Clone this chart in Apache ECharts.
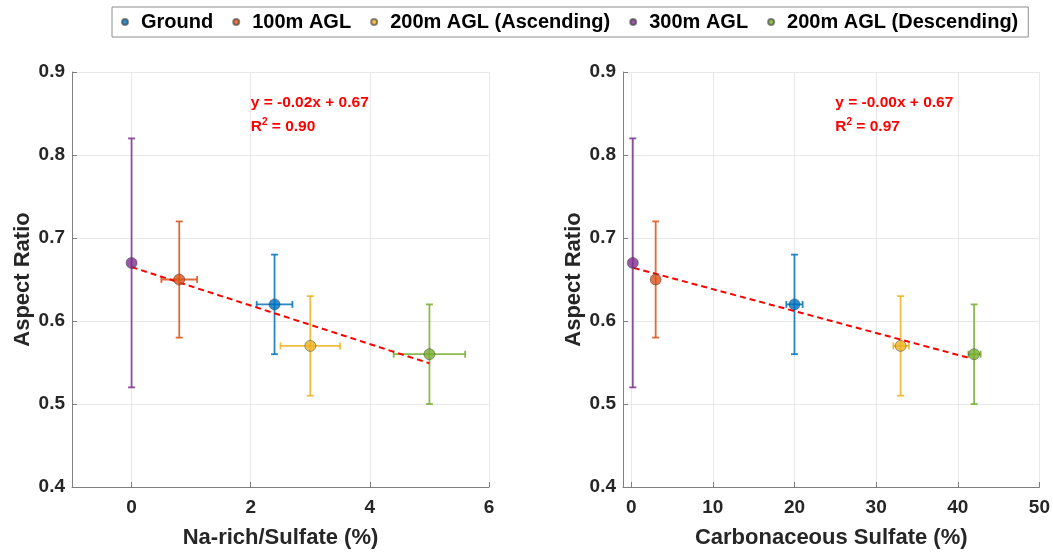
<!DOCTYPE html>
<html>
<head>
<meta charset="utf-8">
<script src="https://cdn.jsdelivr.net/npm/echarts@6/dist/echarts.min.js"></script>
<style>
  html, body { margin: 0; padding: 0; background: #fff; }
  #chart { width: 1053px; height: 554px; }
</style>
</head>
<body>
<div id="chart"></div>
<script>
// groups and colours (MATLAB default order)
const groups = ['Ground', '100m AGL', '200m AGL (Ascending)', '300m AGL', '200m AGL (Descending)'];
const colors = ['#0072BD', '#D95319', '#EDB120', '#7E2F8E', '#77AC30'];

// aspect ratio (shared by both panels)
const aspect   = [0.62, 0.65, 0.57, 0.67, 0.56];
const aspectLo = [0.56, 0.58, 0.51, 0.52, 0.50];
const aspectHi = [0.68, 0.72, 0.63, 0.82, 0.62];

// left panel: Na-rich/Sulfate (%)
const naRich   = [2.4, 0.8, 3.0, 0, 5.0];
const naRichLo = [2.1, 0.5, 2.5, null, 4.4];
const naRichHi = [2.7, 1.1, 3.5, null, 5.6];

// right panel: Carbonaceous Sulfate (%)
const carb   = [20, 3, 33, 0.2, 42];
const carbLo = [19, null, 32.1, null, 41.3];
const carbHi = [21, null, 34, null, 42.8];

// fitted lines (end points)
const trendNa   = [[0, 0.665], [5, 0.549]];
const trendCarb = [[0.3, 0.664], [41.2, 0.556]];
const fitTextNa   = ['y = -0.02x + 0.67', '0.90'];
const fitTextCarb = ['y = -0.00x + 0.67', '0.97'];

const naTicks = [0, 2, 4, 6];
const carbTicks = [0, 10, 20, 30, 40, 50];

const FONT = 'Liberation Sans, Arial, Helvetica, sans-serif';
const AXIS_GRAY = '#7f7f7f';
const LABEL = '#262626';

function errData(xs, xlo, xhi) {
  return xs.map((x, i) => [x, aspect[i], aspectLo[i], aspectHi[i],
    xlo[i] == null ? '-' : xlo[i], xhi[i] == null ? '-' : xhi[i], i]);
}

function renderErr(params, api) {
  const x = api.value(0), y = api.value(1);
  const g = api.value(6);
  const c = colors[g];
  const style = { stroke: c, lineWidth: 1.8, opacity: 0.85 };
  const cap = 3.5;
  const kids = [];
  const p = api.coord([x, y]);
  const top = api.coord([x, api.value(3)]);
  const bot = api.coord([x, api.value(2)]);
  kids.push({ type: 'line', shape: { x1: p[0], y1: top[1], x2: p[0], y2: bot[1] }, style });
  kids.push({ type: 'line', shape: { x1: p[0] - cap, y1: top[1], x2: p[0] + cap, y2: top[1] }, style });
  kids.push({ type: 'line', shape: { x1: p[0] - cap, y1: bot[1], x2: p[0] + cap, y2: bot[1] }, style });
  const xl = api.value(4), xh = api.value(5);
  if (!isNaN(xl) && !isNaN(xh)) {
    const l = api.coord([xl, y]), r = api.coord([xh, y]);
    kids.push({ type: 'line', shape: { x1: l[0], y1: p[1], x2: r[0], y2: p[1] }, style });
    kids.push({ type: 'line', shape: { x1: l[0], y1: p[1] - cap, x2: l[0], y2: p[1] + cap }, style });
    kids.push({ type: 'line', shape: { x1: r[0], y1: p[1] - cap, x2: r[0], y2: p[1] + cap }, style });
  }
  return { type: 'group', children: kids };
}

function xAxisFor(idx, name, min, max, ticks) {
  return {
    type: 'value', gridIndex: idx, min: min, max: max,
    name: name, nameLocation: 'middle', nameGap: 40,
    nameTextStyle: { fontFamily: FONT, fontWeight: 'bold', fontSize: 22, color: LABEL },
    axisLine: { show: true, onZero: false, lineStyle: { color: AXIS_GRAY, width: 1 } },
    axisTick: { show: true, inside: true, length: 5, customValues: ticks, lineStyle: { color: AXIS_GRAY } },
    axisLabel: { customValues: ticks, margin: 11, fontFamily: FONT, fontWeight: 'bold', fontSize: 19, color: LABEL },
    splitLine: { show: true, lineStyle: { color: '#e8e8e8', width: 1 } }
  };
}

function yAxisFor(idx) {
  return {
    type: 'value', gridIndex: idx, min: 0.4, max: 0.9, interval: 0.1,
    name: 'Aspect Ratio', nameLocation: 'middle', nameGap: 38,
    nameTextStyle: { fontFamily: FONT, fontWeight: 'bold', fontSize: 22, color: LABEL },
    axisLine: { show: true, onZero: false, lineStyle: { color: AXIS_GRAY, width: 1 } },
    axisTick: { show: true, inside: true, length: 5, lineStyle: { color: AXIS_GRAY } },
    axisLabel: { margin: 7, fontFamily: FONT, fontWeight: 'bold', fontSize: 19, color: LABEL,
      formatter: v => v.toFixed(1) },
    splitLine: { show: true, lineStyle: { color: '#e8e8e8', width: 1 } }
  };
}

const series = [];
[[naRich, naRichLo, naRichHi, trendNa], [carb, carbLo, carbHi, trendCarb]].forEach((set, k) => {
  series.push({
    type: 'custom', name: 'err' + k, xAxisIndex: k, yAxisIndex: k,
    renderItem: renderErr, encode: { x: 0, y: 1 }, z: 2, silent: true,
    data: errData(set[0], set[1], set[2])
  });
  series.push({
    type: 'line', name: 'fit' + k, xAxisIndex: k, yAxisIndex: k, z: 3,
    symbol: 'none', silent: true,
    lineStyle: { color: '#ff0000', width: 2, type: [6, 4] },
    data: set[3]
  });
  groups.forEach((g, i) => {
    series.push({
      type: 'scatter', name: g, xAxisIndex: k, yAxisIndex: k, z: 4,
      symbolSize: 11,
      itemStyle: { color: colors[i], borderColor: 'rgba(50,50,50,0.7)', borderWidth: 0.8 },
      data: [[set[0][i], aspect[i]]]
    });
  });
});

const chart = echarts.init(document.getElementById('chart'));
chart.setOption({
  animation: false,
  textStyle: { fontFamily: FONT },
  legend: {
    data: groups.map(g => ({ name: g, icon: 'circle' })),
    left: 112, top: 7,
    itemWidth: 6, itemHeight: 6, itemGap: 19,
    padding: [4, 10, 4, 9],
    borderColor: '#8c8c8c', borderWidth: 1,
    textStyle: { fontFamily: FONT, fontWeight: 'bold', fontSize: 20, color: '#000', padding: [0, 0, 0, 8], lineHeight: 22 }
  },
  grid: [
    { left: 72, top: 72, width: 417, height: 417 },
    { left: 623, top: 72, width: 417, height: 417 }
  ],
  xAxis: [
    xAxisFor(0, 'Na-rich/Sulfate (%)', -1, 6, naTicks),
    xAxisFor(1, 'Carbonaceous Sulfate (%)', -1, 50, carbTicks)
  ],
  yAxis: [yAxisFor(0), yAxisFor(1)],
  series: series
});

// regression annotations, anchored in data coordinates
function fitLabel(gridIndex, anchor, txt) {
  const p = chart.convertToPixel({ gridIndex: gridIndex }, anchor);
  return {
    type: 'text', x: p[0], y: p[1], z: 10,
    style: {
      text: '{a|' + txt[0] + '}\n{a|R}{s|2}{a| = ' + txt[1] + '}',
      rich: {
        a: { fontFamily: FONT, fontWeight: 'bold', fontSize: 15.5, fill: '#ff0000', lineHeight: 24 },
        s: { fontFamily: FONT, fontWeight: 'bold', fontSize: 10, fill: '#ff0000', lineHeight: 24, padding: [0, 0, 9, 0] }
      }
    }
  };
}
chart.setOption({
  graphic: [
    fitLabel(0, [2, 0.877], fitTextNa),
    fitLabel(1, [25, 0.877], fitTextCarb)
  ]
});
</script>
</body>
</html>
